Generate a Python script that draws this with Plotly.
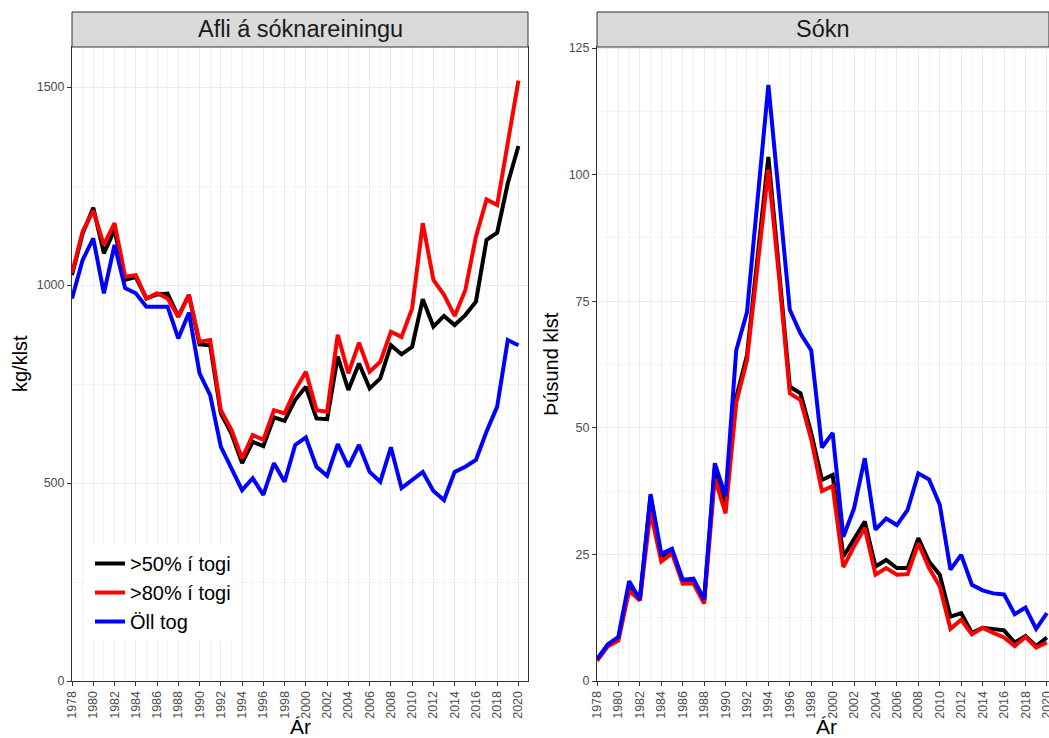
import plotly.graph_objects as go

years = list(range(1978, 2021))

# Afli á sóknareiningu (kg/klst)
cpue_50 = [1025, 1130, 1195, 1080, 1140, 1013, 1020, 966, 976, 978, 920, 975,
           850, 848, 676, 625, 550, 604, 593, 666, 657, 710,
           743, 663, 661, 819, 735, 802, 739, 764, 848, 825,
           844, 964, 895, 922, 899, 924, 958, 1114, 1132, 1257, 1351]
cpue_80 = [1030, 1135, 1188, 1101, 1156, 1021, 1025, 966, 979, 966, 920, 975,
           857, 861, 684, 634, 562, 621, 609, 684, 676, 735,
           781, 684, 680, 874, 777, 854, 781, 806, 882, 869,
           941, 1156, 1013, 975, 922, 987, 1122, 1216, 1202, 1366, 1516]
cpue_all = [966, 1063, 1118, 979, 1101, 992, 979, 945, 945, 945, 865, 930,
            777, 722, 592, 537, 482, 512, 470, 550, 503, 596,
            615, 541, 518, 598, 541, 596, 528, 503, 590, 487,
            508, 528, 480, 457, 528, 541, 558, 630, 693, 861, 848]

# Sókn (þúsund klst)
effort_50 = [4.2, 7.0, 8.5, 19.0, 16.0, 36.5, 24.5, 25.8, 19.8, 19.9, 15.8, 42.0,
             35.0, 56.0, 64.3, 83.7, 103.5, 81.0, 58.1, 56.8, 49.0, 39.7,
             40.7, 24.6, 28.2, 31.5, 22.6, 23.9, 22.3, 22.3, 28.2, 23.6,
             21.0, 12.7, 13.4, 9.5, 10.5, 10.2, 10.0, 7.6, 8.9, 6.9, 8.6]
effort_80 = [4.0, 6.8, 8.0, 17.8, 15.9, 33.4, 23.6, 25.2, 19.2, 19.3, 15.3, 40.0,
             33.1, 55.0, 63.3, 81.7, 101.0, 79.7, 56.8, 55.5, 47.7, 37.5,
             38.5, 22.5, 26.6, 30.2, 21.0, 22.3, 21.0, 21.1, 27.2, 22.3,
             18.7, 10.3, 12.1, 9.2, 10.5, 9.5, 8.6, 6.9, 8.7, 6.6, 7.6]
effort_all = [4.3, 7.2, 8.7, 19.7, 16.1, 36.9, 25.1, 26.1, 20.0, 20.2, 16.1, 43.0,
              36.5, 65.3, 72.8, 95.5, 117.7, 95.5, 73.3, 68.6, 65.3, 46.1,
              49.0, 28.5, 34.1, 44.0, 29.9, 32.1, 30.8, 33.8, 41.0, 39.8,
              34.8, 22.0, 24.9, 19.0, 17.9, 17.3, 17.1, 13.2, 14.5, 10.3, 13.4]

series_names = [">50% í togi", ">80% í togi", "Öll tog"]
series_colors = ["#000000", "#ff0000", "#0000ff"]
panel_titles = ["Afli á sóknareiningu", "Sókn"]
y_titles = ["kg/klst", "Þúsund klst"]
x_title = "Ár"

FONT = "Liberation Sans, Arial, sans-serif"
W, H = 1049, 738

fig = go.Figure()
left_sets = [cpue_50, cpue_80, cpue_all]
right_sets = [effort_50, effort_80, effort_all]
for name, col, yl in zip(series_names, series_colors, left_sets):
    fig.add_trace(go.Scatter(x=years, y=yl, mode="lines", name=name,
                             line=dict(color=col, width=4), xaxis="x", yaxis="y",
                             legendgroup=name))
for name, col, yr in zip(series_names, series_colors, right_sets):
    fig.add_trace(go.Scatter(x=years, y=yr, mode="lines", name=name,
                             line=dict(color=col, width=4), xaxis="x2", yaxis="y2",
                             legendgroup=name, showlegend=False))

top_px, bot_px = 47, 681
ydom = [1 - bot_px / H, 1 - top_px / H]
lx = [72 / W, 528 / W]
rx = [597 / W, 1.0]

def xaxis(domain, rng, anchor):
    return dict(domain=domain, range=rng, anchor=anchor, automargin=False,
                tickmode="linear", tick0=1978, dtick=2, tickangle=-90,
                ticks="outside", ticklen=4, tickcolor="#333333",
                tickfont=dict(size=12.5, color="#4d4d4d", family=FONT),
                ticklabeloverflow="allow",
                showgrid=True, gridcolor="#ebebeb", gridwidth=1,
                minor=dict(dtick=1, tick0=1978, showgrid=True, gridcolor="#f4f4f4", gridwidth=1),
                showline=True, linecolor="#333333", linewidth=1, mirror=True,
                zeroline=False, fixedrange=True)

def yaxis(domain, rng, anchor, dtick, mdtick):
    return dict(domain=domain, range=rng, anchor=anchor, automargin=False,
                tickmode="linear", tick0=0, dtick=dtick,
                ticks="outside", ticklen=4, tickcolor="#333333",
                tickfont=dict(size=12.5, color="#4d4d4d", family=FONT),
                showgrid=True, gridcolor="#ebebeb", gridwidth=1,
                minor=dict(dtick=mdtick, tick0=0, showgrid=True, gridcolor="#f4f4f4", gridwidth=1),
                showline=True, linecolor="#333333", linewidth=1, mirror=True,
                zeroline=False, fixedrange=True)

fig.update_layout(
    width=W, height=H,
    margin=dict(l=0, r=0, t=0, b=0, autoexpand=False),
    paper_bgcolor="white", plot_bgcolor="white",
    font=dict(family=FONT, color="#1a1a1a"),
    xaxis=xaxis(lx, [1978, 2020.9], "y"),
    yaxis=yaxis(ydom, [0, 1601], "x", 500, 250),
    xaxis2=xaxis(rx, [1978, 2020.2], "y2"),
    yaxis2=yaxis(ydom, [0, 125.2], "x2", 25, 12.5),
    legend=dict(x=90 / W, y=1 - 544 / H, xanchor="left", yanchor="top",
                bgcolor="white", font=dict(size=20, family=FONT, color="#000000"),
                itemwidth=30, tracegroupgap=0),
    showlegend=True,
)

strip_top = 1 - 12 / H
for dom, title in zip([lx, rx], panel_titles):
    fig.add_shape(type="rect", xref="paper", yref="paper",
                  x0=dom[0], x1=dom[1], y0=ydom[1], y1=strip_top,
                  fillcolor="#d9d9d9", line=dict(color="#333333", width=1))
    fig.add_annotation(xref="paper", yref="paper", x=(dom[0] + dom[1]) / 2,
                       y=(ydom[1] + strip_top) / 2, text=title, showarrow=False,
                       font=dict(size=23.5, color="#1a1a1a", family=FONT),
                       xanchor="center", yanchor="middle")

ymid = 1 - ((top_px + bot_px) / 2) / H
fig.add_annotation(xref="paper", yref="paper", x=20 / W, y=ymid, text=y_titles[0],
                   textangle=-90, showarrow=False, xanchor="center", yanchor="middle",
                   font=dict(size=20, color="#000000", family=FONT))
fig.add_annotation(xref="paper", yref="paper", x=551 / W, y=ymid, text=y_titles[1],
                   textangle=-90, showarrow=False, xanchor="center", yanchor="middle",
                   font=dict(size=20, color="#000000", family=FONT))
for cx in [300 / W, 826 / W]:
    fig.add_annotation(xref="paper", yref="paper", x=cx, y=1 - 726 / H, text=x_title,
                       showarrow=False, xanchor="center", yanchor="middle",
                       font=dict(size=21, color="#000000", family=FONT))

fig.write_html("out.html", config={"displayModeBar": False},
               post_script="document.body.style.margin='0';document.body.style.padding='0';document.body.style.overflow='hidden';")
